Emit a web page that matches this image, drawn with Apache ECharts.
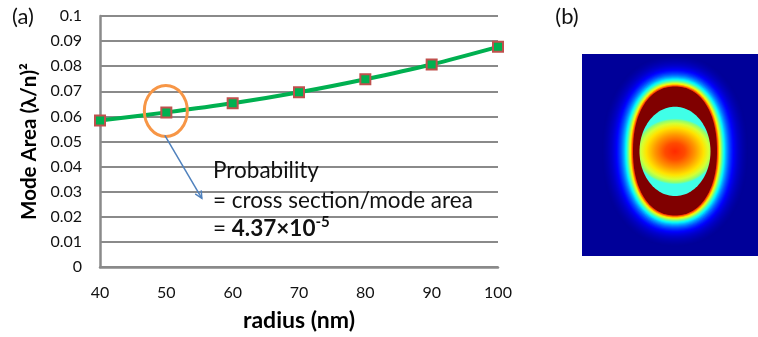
<!DOCTYPE html>
<html>
<head>
<meta charset="utf-8">
<script src="https://cdn.jsdelivr.net/npm/echarts@6/dist/echarts.min.js"></script>
<style>
  html, body { margin: 0; padding: 0; background: #fff; }
  #chart { width: 758px; height: 337px; }
</style>
</head>
<body>
<div id="chart"></div>
<script>
// Mode area of the cavity versus nanoparticle radius
const radius = [40, 50, 60, 70, 80, 90, 100];
const modeArea = [0.0584, 0.0616, 0.0652, 0.0696, 0.0748, 0.0807, 0.0877];
const highlightIndex = 1; // point circled by the annotation (r = 50 nm)

const FONT = 'Lato, "Noto Sans", "DejaVu Sans", sans-serif';
const GRID_GRAY = '#8a8a8a';

const chart = echarts.init(document.getElementById('chart'), null, { renderer: 'canvas' });

// ---- Panel (b): field intensity map ----
// jet colormap, v in [0, 1]
function jet(v) {
  const c = x => Math.round(255 * Math.max(0, Math.min(1, x)));
  return 'rgb(' + c(1.5 - Math.abs(4 * v - 3)) + ',' + c(1.5 - Math.abs(4 * v - 2)) + ',' + c(1.5 - Math.abs(4 * v - 1)) + ')';
}
// superellipse outline around the origin
function superEllipse(a, b, n, count) {
  const pts = [];
  for (let i = 0; i < count; i++) {
    const t = (i / count) * Math.PI * 2;
    const c = Math.cos(t), s = Math.sin(t);
    pts.push([a * Math.sign(c) * Math.pow(Math.abs(c), 2 / n), b * Math.sign(s) * Math.pow(Math.abs(s), 2 / n)]);
  }
  return pts;
}

const MAP = { x: 582, y: 54, w: 176, h: 202, cx: 675, cy: 151 };
const RING = { a: 42, b: 64.5, n: 2.2 };
const mapChildren = [
  { type: 'rect', shape: { x: MAP.x, y: MAP.y, width: MAP.w, height: MAP.h }, style: { fill: jet(0.025) } }
];
// halo: nested outlines, intensity falling off with distance from the ring
const haloMax = Math.floor(Math.min(MAP.cy - RING.b - MAP.y, MAP.x + MAP.w - MAP.cx - RING.a) - 1);
for (let d = haloMax; d >= 1; d--) {
  mapChildren.push({
    type: 'polygon', x: MAP.cx, y: MAP.cy,
    shape: { points: superEllipse(RING.a + d, RING.b + d, RING.n, 160) },
    style: { fill: jet(0.86 * Math.exp(-(d - 0.5) / 8.5)) }
  });
}
// saturated ring
mapChildren.push({
  type: 'polygon', x: MAP.cx, y: MAP.cy,
  shape: { points: superEllipse(RING.a, RING.b, RING.n, 160) },
  style: { fill: '#800000' }
});
// inner core: outline in a scaled frame so its gradient is wider than tall
function ellipsePoints(rx, ry, n) {
  const pts = [];
  for (let i = 0; i < n; i++) {
    const t = (i / n) * Math.PI * 2;
    pts.push([rx * Math.cos(t), ry * Math.sin(t)]);
  }
  return pts;
}
mapChildren.push({
  type: 'polygon', x: 675, y: 151.4, scaleX: 40, scaleY: 33,
  shape: { points: ellipsePoints(35.5 / 40, 44.7 / 33, 120) },
  style: {
    fill: new echarts.graphic.RadialGradient(0.5, 0.5, 1 / (2 * 35.5 / 40), [
      { offset: 0, color: '#ff2a00' },
      { offset: 0.25, color: '#ff4a00' },
      { offset: 0.5, color: '#ff9600' },
      { offset: 0.72, color: '#ffe400' },
      { offset: 0.84, color: '#d8ff30' },
      { offset: 0.94, color: '#90ff70' },
      { offset: 1.0, color: '#40ffe8' }
    ])
  }
});
const fieldMap = { type: 'group', children: mapChildren };

chart.setOption({
  animation: false,
  textStyle: { fontFamily: FONT },
  grid: { left: 100, right: 260, top: 16, bottom: 70, containLabel: false },
  xAxis: {
    type: 'value', min: 40, max: 100, interval: 10,
    name: 'radius (nm)', nameLocation: 'middle', nameGap: 42,
    nameTextStyle: { fontSize: 23, fontWeight: 'bold', color: '#000', fontFamily: FONT },
    axisLine: { show: true, lineStyle: { color: GRID_GRAY, width: 2.5 } },
    axisTick: { show: false },
    splitLine: { show: false },
    axisLabel: { fontSize: 16, color: '#111', margin: 18, fontFamily: FONT }
  },
  yAxis: {
    type: 'value', min: 0, max: 0.1, interval: 0.01,
    name: 'Mode Area (λ/n)²', nameLocation: 'middle', nameGap: 53,
    nameTextStyle: { fontSize: 20.5, fontWeight: 'bold', color: '#000', fontFamily: FONT },
    axisLine: { show: true, lineStyle: { color: GRID_GRAY, width: 2.5 } },
    axisTick: { show: false },
    splitLine: { show: true, lineStyle: { color: GRID_GRAY, width: 2 } },
    axisLabel: { fontSize: 16, color: '#111', margin: 18, fontFamily: FONT }
  },
  series: [{
    type: 'line',
    data: radius.map((r, i) => [r, modeArea[i]]),
    smooth: 0.3,
    symbol: 'rect',
    symbolSize: 10,
    lineStyle: { color: '#00b050', width: 4 },
    itemStyle: { color: '#00b050', borderColor: '#c0504d', borderWidth: 2 },
    z: 3
  }]
});

// Annotation anchored on the highlighted data point
const p = chart.convertToPixel({ seriesIndex: 0 }, [radius[highlightIndex], modeArea[highlightIndex]]);
const a0 = [p[0] - 1.5, p[1] + 23];
const a1 = [p[0] + 35.5, p[1] + 86];
const ang = Math.atan2(a1[1] - a0[1], a1[0] - a0[0]);
const headLen = 8, headSpread = 0.45;
const head = [
  [a1[0] - headLen * Math.cos(ang - headSpread), a1[1] - headLen * Math.sin(ang - headSpread)],
  a1,
  [a1[0] - headLen * Math.cos(ang + headSpread), a1[1] - headLen * Math.sin(ang + headSpread)]
];
const NOTE_FONT = '22.5px ' + FONT;

chart.setOption({
  graphic: [
    fieldMap,
    { type: 'text', x: 23, y: 17, style: { text: '(a)', font: '22px ' + FONT, fill: '#111', align: 'center', verticalAlign: 'middle' } },
    { type: 'text', x: 567, y: 17, style: { text: '(b)', font: '22px ' + FONT, fill: '#111', align: 'center', verticalAlign: 'middle' } },
    {
      type: 'ellipse', z: 10,
      shape: { cx: p[0] - 0.5, cy: p[1] - 1.5, rx: 21.5, ry: 25.5 },
      style: { fill: 'none', stroke: '#f79646', lineWidth: 3 }
    },
    { type: 'line', z: 10, shape: { x1: a0[0], y1: a0[1], x2: a1[0], y2: a1[1] }, style: { stroke: '#4f81bd', lineWidth: 1.5 } },
    { type: 'polyline', z: 10, shape: { points: head }, style: { stroke: '#4f81bd', lineWidth: 1.5, fill: 'none' } },
    { type: 'text', z: 10, x: 213, y: 171, style: { text: 'Probability', font: NOTE_FONT, fill: '#111', verticalAlign: 'middle' } },
    { type: 'text', z: 10, x: 213, y: 201, style: { text: '= cross section/mode area', font: NOTE_FONT, fill: '#111', verticalAlign: 'middle' } },
    {
      type: 'text', z: 10, x: 213, y: 228.5,
      style: {
        text: '= {b|4.37×10}{s|-5}',
        font: NOTE_FONT, fill: '#111', verticalAlign: 'middle',
        rich: {
          b: { fontFamily: FONT, fontSize: 22.5, fontWeight: 'bold', fill: '#111', lineHeight: 27 },
          s: { fontFamily: FONT, fontSize: 15, fontWeight: 'bold', fill: '#111', verticalAlign: 'top', lineHeight: 15 }
        }
      }
    }
  ]
});
</script>
</body>
</html>
